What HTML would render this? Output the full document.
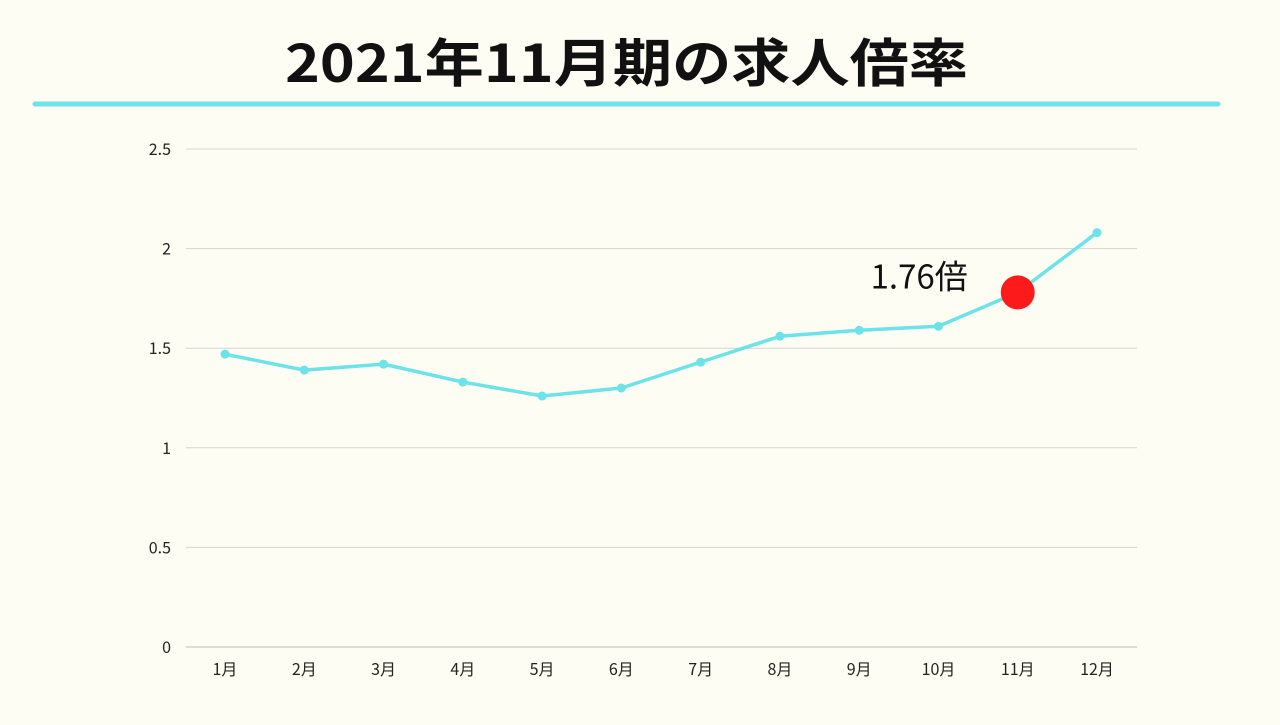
<!DOCTYPE html>
<html><head><meta charset="utf-8">
<style>
html,body{margin:0;padding:0;background:#fdfdf4;}
body{width:1280px;height:720px;overflow:hidden;font-family:"Liberation Sans","Noto Sans CJK JP",sans-serif;}
svg text{font-family:"Noto Sans CJK JP","Liberation Sans",sans-serif;}
</style></head>
<body>
<svg id="chart" width="1280" height="720" xmlns="http://www.w3.org/2000/svg">
<rect width="1280" height="720" fill="#fdfdf4"/>
<text x="285" y="82" font-size="52" font-weight="bold" fill="#111" textLength="683" lengthAdjust="spacingAndGlyphs">2021年11月期の求人倍率</text>
<line x1="35" y1="104" x2="1218" y2="104" stroke="#6be3e8" stroke-width="5" stroke-linecap="round"/>
<g id="grid"></g><g id="xlabels"></g><g id="series"></g>
</svg>
<script>
const categories=["1月","2月","3月","4月","5月","6月","7月","8月","9月","10月","11月","12月"];
const values=[1.47,1.39,1.42,1.33,1.26,1.30,1.43,1.56,1.59,1.61,1.78,2.08];
const yTicks=[0,0.5,1,1.5,2,2.5];
const yTickLabels=["0","0.5","1","1.5","2","2.5"];
const highlightIndex=10;
const highlightLabel="1.76倍";
const NS="http://www.w3.org/2000/svg";
function y(v){return 647-v*(647-149)/2.5;}
function x(i){return 225+i*(1097-225)/11;}
function mk(t,a,p){const e=document.createElementNS(NS,t);for(const k in a)e.setAttribute(k,a[k]);p.appendChild(e);return e;}
const grid=document.getElementById('grid');
yTicks.forEach((t,i)=>{
 const l=mk('line',{x1:186,x2:1137,y1:y(t),y2:y(t),stroke:i===0?'#bbb':'#d6d6d0','stroke-width':1},grid);
 
 
 const tx=mk('text',{x:171,y:y(t)+6,'text-anchor':'end','font-size':16,fill:'#222'},grid);
 tx.textContent=yTickLabels[i];
 
 
});
const xl=document.getElementById('xlabels');
categories.forEach((c,i)=>{
 const tx=mk('text',{x:x(i),y:675,'text-anchor':'middle','font-size':16,fill:'#222'},xl);
 tx.textContent=c;
 
 
});
const s=document.getElementById('series');
const pl=mk('polyline',{points:values.map((v,i)=>x(i)+','+y(v)).join(' '),fill:'none',stroke:'#6be3e8','stroke-width':3.5,'stroke-linejoin':'round'},s);


values.forEach((v,i)=>{
 const c=mk('circle',{cx:x(i),cy:y(v),r:4.5,fill:'#6be3e8'},s);
 
 
});
const hc=mk('circle',{cx:x(highlightIndex),cy:y(values[highlightIndex]),r:17,fill:'#fc1a1a'},s);


const ht=mk('text',{x:x(highlightIndex)-50,y:y(values[highlightIndex])-4,'text-anchor':'end','font-size':33,fill:'#111'},s);
ht.textContent=highlightLabel;


</script>
</body></html>
